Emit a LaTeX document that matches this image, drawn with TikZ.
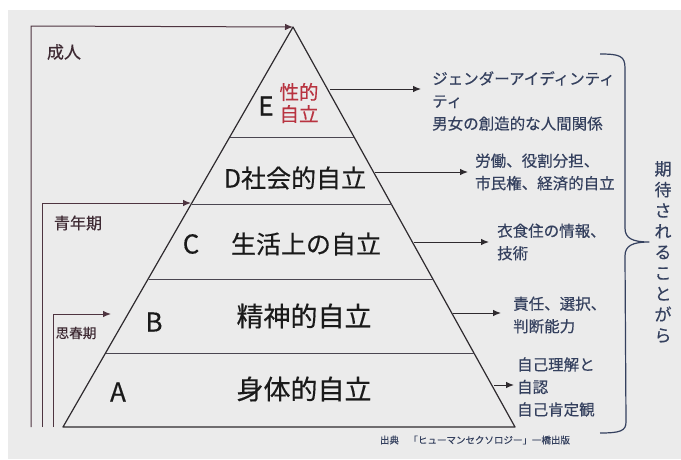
\documentclass[tikz,border=0pt]{standalone}
\usepackage{fontspec}
\setmainfont{Noto Sans CJK JP}[FakeBold=0.35]
\usetikzlibrary{arrows.meta}
\definecolor{bggray}{HTML}{EBEBEB}
\definecolor{framebrown}{HTML}{4E3440}
\definecolor{pyrline}{HTML}{2E2A2E}
\definecolor{divline}{HTML}{4A4650}
\definecolor{notecol}{HTML}{34405E}
\definecolor{redtext}{HTML}{B83340}
\definecolor{maintext}{HTML}{1A1A1A}
\begin{document}
\begin{tikzpicture}[x=1pt,y=-1pt,
  frameline/.style={draw=framebrown, line width=1pt},
  arr/.style={-{Latex[length=8pt,width=6.5pt]}},
  pyr/.style={draw=pyrline, line width=1.2pt},
  divider/.style={draw=divline, line width=0.9pt},
  levelname/.style={font=\fontsize{25}{30}\selectfont, text=maintext, inner sep=0},
  letter/.style={font=\fontsize{26}{30}\selectfont, text=maintext, inner sep=0},
  note/.style={font=\fontsize{15.5}{22.5}\selectfont, align=left, text=notecol, inner sep=0, anchor=west},
  agelabel/.style={text=framebrown!80!black, inner sep=0}]
\useasboundingbox (0,0) rectangle (681,459);
\fill[white] (0,0) rectangle (681,459);
\fill[bggray] (8,10) rectangle (681,459);

% pyramid
\coordinate (apex) at (293,27);
\coordinate (bl) at (63,427);
\coordinate (br) at (515,427);
\draw[pyr, line join=round] (apex) -- (bl) -- (br) -- cycle;

% dividers
\coordinate (ed-l) at (230,137); \coordinate (ed-r) at (354,137);
\coordinate (dc-l) at (191.5,204); \coordinate (dc-r) at (391.5,204);
\coordinate (cb-l) at (148.5,279); \coordinate (cb-r) at (433.5,279);
\coordinate (ba-l) at (106,353); \coordinate (ba-r) at (474.5,353);
\draw[divider] (ed-l) -- (ed-r);
\draw[divider] (dc-l) -- (dc-r);
\draw[divider] (cb-l) -- (cb-r);
\draw[divider] (ba-l) -- (ba-r);

% age frames
\coordinate (adult-b) at (31,427); \coordinate (adult-t) at (31,26);
\coordinate (youth-b) at (42,427); \coordinate (youth-t) at (42,203); \coordinate (youth-e) at (191,203);
\coordinate (pub-b) at (53,427); \coordinate (pub-t) at (53,314); \coordinate (pub-e) at (111,314);
\draw[frameline, arr] (adult-b) -- (adult-t) -- (apex);
\draw[frameline, arr] (youth-b) -- (youth-t) -- (youth-e);
\draw[frameline, arr] (pub-b) -- (pub-t) -- (pub-e);
\node[agelabel, font=\fontsize{17}{20}\selectfont] (adult) at (64,52) {成人};
\node[agelabel, font=\fontsize{16}{20}\selectfont] (youth) at (78,223) {青年期};
\node[agelabel, font=\fontsize{13.5}{16}\selectfont] (puberty) at (76,333) {思春期};

% level labels
\node[letter] (lE) at (266,106) {E};
\node[inner sep=0, align=center, text=redtext, font=\fontsize{19.5}{22}\selectfont] (sexual) at (299,103) {性的\\自立};
\node[levelname] (lD) at (295,178) {D社会的自立};
\node[letter] (lC) at (191,244) {C};
\node[levelname] (social) at (306,244) {生活上の自立};
\node[letter] (lB) at (154,322) {B};
\node[levelname, font=\fontsize{27}{30}\selectfont] (mental) at (304,316) {精神的自立};
\node[letter] (lA) at (118,392) {A};
\node[levelname, font=\fontsize{27}{30}\selectfont] (body) at (304,389) {身体的自立};

% notes
\node[note] (nE) at (432,101) {ジェンダーアイディンティ\\ティ\\男女の創造的な人間関係};
\node[note] (nD) at (475,172) {労働、役割分担、\\市民権、経済的自立};
\node[note] (nC) at (497,242) {衣食住の情報、\\技術};
\node[note] (nB) at (513,315) {責任、選択、\\判断能力};
\node[note] (nA) at (517,387) {自己理解と\\自認\\自己肯定観};

% arrows
\coordinate (aE-s) at (330,89); \coordinate (aE-e) at (421,89);
\coordinate (aD-s) at (375,172); \coordinate (aD-e) at (468,172);
\coordinate (aC-s) at (414,242); \coordinate (aC-e) at (489,242);
\coordinate (aB-s) at (453,313); \coordinate (aB-e) at (501,313);
\coordinate (aA-s) at (494,385); \coordinate (aA-e) at (514,385);
\draw[pyr, line width=1pt, arr] (aE-s) -- (aE-e);
\draw[pyr, line width=1pt, arr] (aD-s) -- (aD-e);
\draw[pyr, line width=1pt, arr] (aC-s) -- (aC-e);
\draw[pyr, line width=1pt, arr] (aB-s) -- (aB-e);
\draw[pyr, line width=1pt, arr] (aA-s) -- (aA-e);

% brace
\draw[draw=notecol, line width=1.2pt, line join=round]
  (600,54) .. controls (620,54) and (625,56) .. (625,68) -- (625,228)
  .. controls (625,238) and (632,242) .. (649,242)
  .. controls (632,242) and (625,246) .. (625,256) -- (626,422)
  .. controls (626,431) and (620,433) .. (600,433);
\node[inner sep=0, align=center, text=notecol, font=\fontsize{17}{20.8}\selectfont] (expected) at (663,252)
  {期\\待\\さ\\れ\\る\\こ\\と\\が\\ら};

% source
\node[inner sep=0, text=notecol, font=\fontsize{9.5}{11}\selectfont] (source) at (475,440)
  {出典　「ヒューマンセクソロジー」一橋出版};
\end{tikzpicture}
\end{document}
